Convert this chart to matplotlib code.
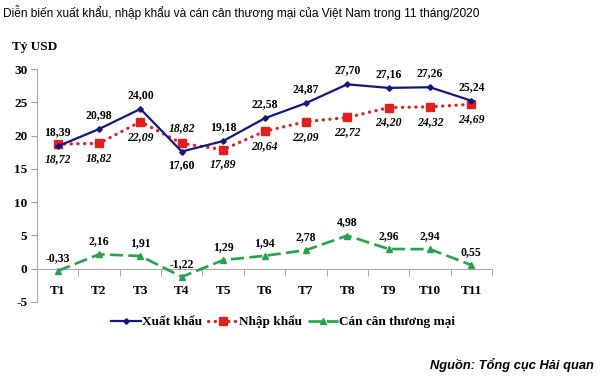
import matplotlib
matplotlib.use('Agg')
import matplotlib.pyplot as plt
from matplotlib.lines import Line2D

# Data (tỷ USD)
months = ['T1', 'T2', 'T3', 'T4', 'T5', 'T6', 'T7', 'T8', 'T9', 'T10', 'T11']
xuat_khau = [18.39, 20.98, 24.00, 17.60, 19.18, 22.58, 24.87, 27.70, 27.16, 27.26, 25.24]
nhap_khau = [18.72, 18.82, 22.09, 18.82, 17.89, 20.64, 22.09, 22.72, 24.20, 24.32, 24.69]
can_can = [-0.33, 2.16, 1.91, -1.22, 1.29, 1.94, 2.78, 4.98, 2.96, 2.94, 0.55]

# label above (+1) or below (-1) the point
xk_pos = [1, 1, 1, -1, 1, 1, 1, 1, 1, 1, 1]
nk_pos = [-1, -1, -1, 1, -1, -1, -1, -1, -1, -1, -1]

NAVY = '#15167a'
RED = '#e0201c'
GREEN = '#26a24a'
SERIF = 'Liberation Serif'

fig = plt.figure(figsize=(6.0, 3.76), dpi=100)
ax = fig.add_axes([37 / 600, 1 - 302 / 376, 455 / 600, 233 / 376])

# spines first: moving a spine resets the ticks
for s in ['top', 'right']:
    ax.spines[s].set_visible(False)
ax.spines['bottom'].set_position(('data', 0))
ax.spines['bottom'].set_color('#aaaaaa')
ax.spines['left'].set_color('#aaaaaa')

x = list(range(len(months)))

ax.plot(x, xuat_khau, color=NAVY, lw=1.6, marker='D', ms=2.8, zorder=4)
ax.plot(x, nhap_khau, color=RED, lw=2.3, linestyle=(0, (0.1, 2.0)),
        dash_capstyle='round', marker='s', ms=5.5, zorder=3)
ax.plot(x, can_can, color=GREEN, lw=1.9, linestyle=(0, (5, 2)),
        marker='^', ms=5, zorder=3)

def fmt(v):
    return f'{v:.2f}'.replace('.', ',')

for i in x:
    ax.annotate(fmt(xuat_khau[i]), (i, xuat_khau[i]), xytext=(0, 14 * xk_pos[i]),
                textcoords='offset pixels', ha='center', va='center',
                fontsize=8.5, fontweight='bold', family=SERIF)
    ax.annotate(fmt(nhap_khau[i]), (i, nhap_khau[i]), xytext=(0, 15 * nk_pos[i]),
                textcoords='offset pixels', ha='center', va='center',
                fontsize=8.5, fontweight='bold', style='italic', family=SERIF)
    ax.annotate(fmt(can_can[i]), (i, can_can[i]), xytext=(0, 13),
                textcoords='offset pixels', ha='center', va='center',
                fontsize=8.5, fontweight='bold', family=SERIF)

ax.set_xlim(-0.5, len(months) - 0.5)
ax.set_ylim(-5, 30)
ax.set_yticks(range(-5, 31, 5))
ax.set_yticklabels([str(v) for v in range(-5, 31, 5)])

ax.set_xticks(x)
ax.set_xticklabels(months)
ax.set_xticks([i + 0.5 for i in range(-1, len(months))], minor=True)
ax.tick_params(axis='x', which='major', length=0, pad=12)
ax.tick_params(axis='x', which='minor', length=5, color='#999999')
ax.tick_params(axis='y', length=4, color='#999999', pad=3)
for lab in ax.get_xticklabels() + ax.get_yticklabels():
    lab.set_fontfamily(SERIF)
    lab.set_fontweight('bold')
    lab.set_fontsize(9.5)

fig.text(12 / 600, 1 - 47 / 376, 'Tỷ USD', fontsize=9.5, fontweight='bold',
         family=SERIF, va='center', ha='left')

fig.text(3 / 600, 1 - 12 / 376,
         'Diễn biến xuất khẩu, nhập khẩu và cán cân thương mại của Việt Nam trong 11 tháng/2020',
         fontsize=8.6, family='Liberation Sans', va='center', ha='left')

fig.text(594 / 600, 1 - 365 / 376, 'Nguồn: Tổng cục Hải quan', fontsize=9.3,
         family='Liberation Sans', style='italic', fontweight='bold',
         va='center', ha='right')

handles = [
    Line2D([], [], color=NAVY, lw=1.6, marker='D', ms=2.8),
    Line2D([], [], color=RED, lw=2.3, linestyle=(0, (0.1, 2.0)),
           dash_capstyle='round', marker='s', ms=5.5),
    Line2D([], [], color=GREEN, lw=1.9, linestyle=(0, (5, 2)), marker='^', ms=5),
]
fig.legend(handles, ['Xuất khẩu', 'Nhập khẩu', 'Cán cân thương mại'],
           loc='center', bbox_to_anchor=(283 / 600, 1 - 322 / 376), ncol=3,
           frameon=False, handlelength=2.3, handletextpad=0.1, columnspacing=0.4,
           numpoints=1, prop={'family': SERIF, 'weight': 'bold', 'size': 9.5})

fig.savefig('out.png', dpi=100)
